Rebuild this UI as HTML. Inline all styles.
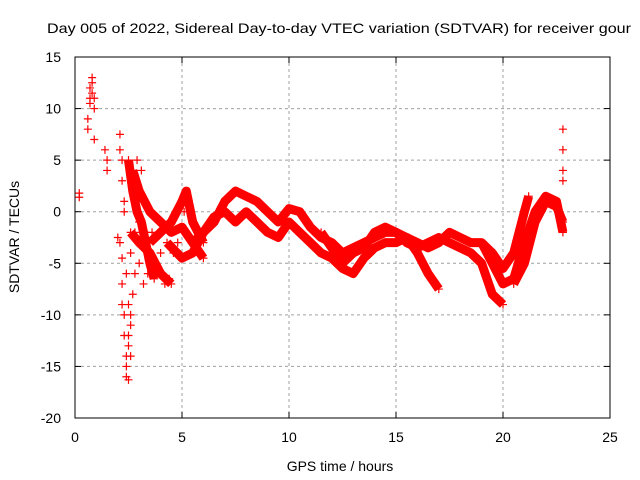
<!DOCTYPE html>
<html><head><meta charset="utf-8"><style>
body{margin:0;background:#fff}
svg{display:block;font-family:"Liberation Sans",sans-serif}
</style></head><body>
<svg id="chart" width="640" height="480" xmlns="http://www.w3.org/2000/svg">
<rect width="640" height="480" fill="#fff"/>
<text x="47" y="33" font-size="14" textLength="584" lengthAdjust="spacingAndGlyphs">Day 005 of 2022, Sidereal Day-to-day VTEC variation (SDTVAR) for receiver gour</text>
<g id="grid"></g>
<g id="axes"></g>
<g id="series"></g>
<text x="340" y="471" font-size="14" text-anchor="middle">GPS time / hours</text>
<text transform="translate(19,237) rotate(-90)" font-size="14" text-anchor="middle">SDTVAR / TECUs</text>
</svg>
<script>
const xTicks=[0,5,10,15,20,25];
const yTicks=[15,10,5,0,-5,-10,-15,-20];
const track1=[[5.5,-3],[6,-2],[6.5,-1],[7,1],[7.5,2],[8,1.5],[8.5,1],[9,0],[9.5,-1],[10,0.3],[10.5,0],[11,-1.5],[11.5,-2.5],[12,-3],[12.5,-4],[13,-3.5],[13.5,-3],[14,-2.5],[14.5,-2],[15,-2],[15.5,-2.5],[16,-3],[16.5,-3.5],[17,-3],[17.5,-2],[18,-2.5],[18.5,-3],[19,-3],[19.5,-4],[20,-5.5],[20.5,-4],[21,0],[21.2,1.5]];
const track2=[[4.3,-3],[5,-4.5],[5.5,-4],[6,-2],[6.5,-0.5],[7,0],[7.5,-1],[8,0],[8.5,-1],[9,-2],[9.5,-2.5],[10,-1],[10.5,-2],[11,-3],[11.5,-4],[12,-4.5],[12.5,-5.5],[13,-6],[13.5,-4.5],[14,-3.5],[14.5,-3],[15,-3],[15.5,-2.5],[16,-4],[16.5,-6],[17,-7.5]];
const track3=[[11.5,-2],[12,-3.5],[12.5,-5],[13,-4],[13.5,-3.5],[14,-2],[14.5,-1.5],[15,-2],[15.5,-3],[16,-3.5],[16.5,-3],[17,-2.5],[17.5,-3],[18,-3.5],[18.5,-4],[19,-5],[19.5,-8],[20,-9]];
const track4=[[19,-3],[19.5,-5],[20,-7],[20.5,-6.5],[21,-3],[21.5,0],[22,1.5],[22.5,1],[22.8,-2]];
const track5=[[20.5,-7],[21,-5],[21.5,-1],[22,1],[22.5,0.5],[22.8,-1]];
const track6=[[2.7,4],[3,2],[3.5,0],[4,-1],[4.5,-2],[5,-1.5],[5.5,-3],[6,-4.5]];
const track7=[[2.6,-2],[3,-3],[3.5,-4],[4,-6],[4.5,-7]];
const track8=[[3.5,-3],[4,-2],[4.5,-1],[5,1],[5.2,2],[5.5,-1],[6,-3]];
const track9=[[2.5,5],[2.7,2],[2.9,0],[3.1,-1],[3.3,-3],[3.5,-5],[3.7,-6.5]];
const scatterPts=[[0.2,1.8],[0.2,1.4],[0.6,9],[0.6,8],[0.7,12],[0.7,11],[0.8,13],[0.8,12.5],[0.9,11],[0.9,10],[0.9,7],[1.4,6],[1.5,5],[1.5,4],[2,-2.5],[2.1,-3],[2.2,-4.5],[2.1,7.5],[2.1,6],[2.2,5],[2.2,3],[2.3,1],[2.3,0],[2.2,-7],[2.2,-9],[2.3,-10],[2.3,-12],[2.4,-14],[2.4,-16],[2.5,-12],[2.6,-14],[2.6,-11],[2.5,-9],[2.7,3],[2.8,-6],[3,-5],[3.2,-7],[3.4,-6],[2.9,5],[3.1,4],[4.2,-7],[4.4,-6.5],[22.8,8],[22.8,6],[22.8,4],[22.8,3],[2.4,-15],[2.5,-13],[2.6,-10],[2.7,-8],[2.4,-6],[2.6,-4],[2.8,-2],[3,-1],[3.2,1],[3.3,-2],[3.6,-2],[3.8,-5],[4,-4],[4.6,-4],[4.8,-3],[5.1,0],[5.3,1],[0.7,10.5],[0.8,11.5],[2.5,-16.3]];
const X=t=>75+(t/25)*535;
const Y=v=>57+((15-v)/35)*361;
const NS="http://www.w3.org/2000/svg";
const svg=document.getElementById('chart');
function mk(tag,attrs,parent){const e=document.createElementNS(NS,tag);for(const k in attrs)e.setAttribute(k,attrs[k]);parent.appendChild(e);return e;}
const grid=document.getElementById('grid'),axes=document.getElementById('axes'),series=document.getElementById('series');
xTicks.forEach(t=>{
  if(t>0&&t<25){const l=mk('line',{x1:X(t),x2:X(t),y1:57,y2:418,stroke:'#a0a0a0','stroke-dasharray':'3,3'},grid);
  
  }
  const tk=mk('line',{x1:X(t),x2:X(t),y1:418,y2:412,stroke:'#000'},axes);
  
  
  const tk2=mk('line',{x1:X(t),x2:X(t),y1:57,y2:63,stroke:'#000'},axes);
  
  
  const tx=mk('text',{x:X(t),y:442,'font-size':14,'text-anchor':'middle'},axes);tx.textContent=t;
  
  
});
yTicks.forEach(v=>{
  if(v<15&&v>-20){const l=mk('line',{x1:75,x2:610,y1:Y(v),y2:Y(v),stroke:'#a0a0a0','stroke-dasharray':'3,3'},grid);
  
  }
  const tk=mk('line',{x1:75,x2:81,y1:Y(v),y2:Y(v),stroke:'#000'},axes);
  
  
  const tk2=mk('line',{x1:604,x2:610,y1:Y(v),y2:Y(v),stroke:'#000'},axes);
  
  
  const tx=mk('text',{x:61,y:Y(v)+5,'font-size':14,'text-anchor':'end'},axes);tx.textContent=v;
  
  
});
const frame=mk('rect',{x:75,y:57,width:535,height:361,fill:'none',stroke:'#000'},axes);


function plus(t,v){const p=mk('path',{d:`M${X(t)-4},${Y(v)}h8M${X(t)},${Y(v)-4}v8`,stroke:'#f00','stroke-width':1.2},series);
  
  }
[track1,track2,track3,track4,track5,track6,track7,track8,track9].forEach(tr=>{
  const pl=mk('polyline',{points:tr.map(p=>X(p[0])+','+Y(p[1])).join(' '),fill:'none',stroke:'#f00','stroke-width':9,'stroke-linejoin':'round'},series);
  
  
  tr.forEach(p=>plus(p[0],p[1]));
});
scatterPts.forEach(p=>plus(p[0],p[1]));
</script>
</body></html>
